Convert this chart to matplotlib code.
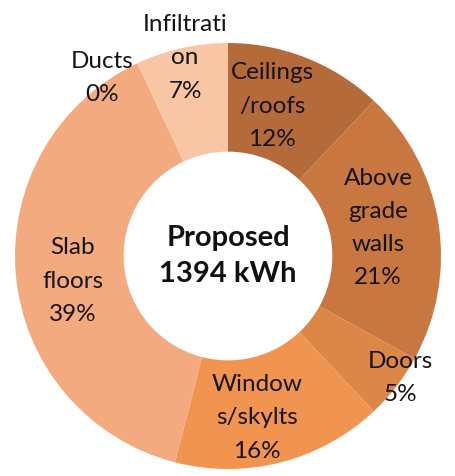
import matplotlib
matplotlib.use("Agg")
from matplotlib import pyplot as plt

# proposed envelope heat loss breakdown, donut chart

categories = ["Ceilings\n/roofs", "Above\ngrade\nwalls", "Doors", "Window\ns/skylts",
              "Slab\nfloors", "Ducts", "Infiltrati\non"]
shares = [12, 21, 5, 16, 39, 0, 7]
total_kwh = 1394
colors = ["#b56a3a", "#c97740", "#dc8748", "#f0944f", "#f3aa7f", "#f3aa7f", "#f8c5a5"]

# label centres in pixel coords of the original picture (x, y from top)
label_px = [(272, 106), (378, 228), (400, 378), (257, 418), (73, 281), (102, 78), (185, 58)]

CX, CY, R = 228, 256, 213

plt.rcParams['font.family'] = ['Lato', 'DejaVu Sans']

fig = plt.figure(figsize=(4.56, 4.76), dpi=100)
ax = fig.add_axes([(CX - R) / 456, (476 - CY - R) / 476, 2 * R / 456, 2 * R / 476])
ax.pie(shares, colors=colors, startangle=90, counterclock=False, radius=1,
       wedgeprops=dict(width=0.51, edgecolor='none'))
ax.set_xlim(-1, 1)
ax.set_ylim(-1, 1)
ax.set_aspect('equal')
ax.axis('off')

for cat, val, (px, py) in zip(categories, shares, label_px):
    ax.text((px - CX) / R, (CY - py) / R, cat + "\n" + str(val) + "%",
            ha='center', va='center', fontsize=17.5, color='#141414', linespacing=1.72)

ax.text(0, 0.0, "Proposed\n" + str(total_kwh) + " kWh", ha='center', va='center',
        fontsize=21, fontweight='bold', color='#111111', linespacing=1.5)

fig.savefig("out.png", dpi=100)
